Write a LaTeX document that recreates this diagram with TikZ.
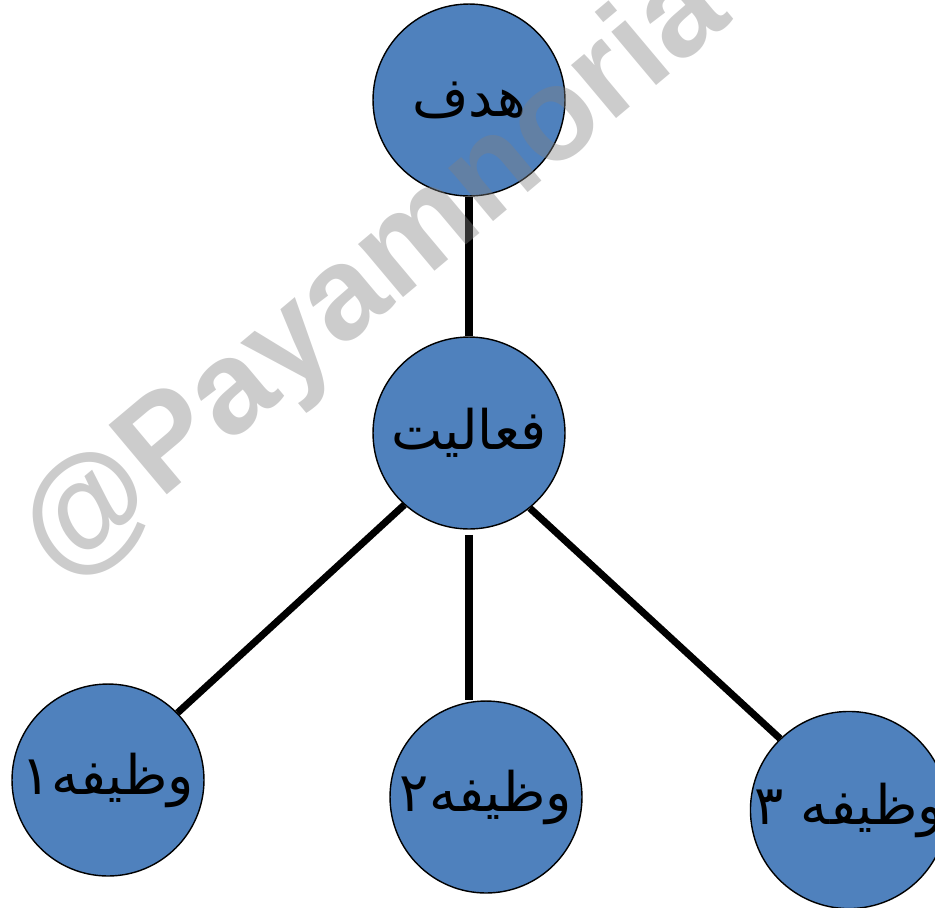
\documentclass[tikz,border=0pt]{standalone}
\usepackage{fontspec}
\TeXXeTstate=1
\newfontfamily\arabicfont[Script=Arabic]{DejaVu Sans}
\newfontfamily\wmfont{Liberation Sans}
\definecolor{CB}{RGB}{79,129,189}
\tikzset{
    CC1/.style ={circle,minimum size=3.84cm,inner sep=0pt,draw,line width=0.8pt,fill=CB,font=\arabicfont\fontsize{31}{33}\selectfont},
    LL/.style ={line width=4pt},
    WM/.style ={text=gray,opacity=0.4,rotate=40,font=\wmfont\bfseries\fontsize{75}{80}\selectfont}}

\begin{document}
\begin{tikzpicture}[x=0.02cm,y=-0.02cm]
        \useasboundingbox (0,0) rectangle (935,907);
        \node[CC1] (1) at (469,100){\beginR هدف\endR};
        \node[CC1] (2) at (469,433){\beginR فعالیت\endR};
        \node[CC1] (3) at (108,780){\beginR وظیفه۱\endR};
        \node[CC1] (4) at (486,797){\beginR وظیفه۲\endR};
        \node[CC1] (5) at (849,810){\beginR وظیفه ۳\endR};
        \draw[LL] (1) -- (2);
        \draw[LL] (2.228) -- (3.44);
        \draw[LL,shorten <=3pt] (2.south) -- (2.south |- 4.north);
        \draw[LL] (2.309) -- (5.134);
        \node[WM] (w) at (376,276){@Payamnoria};
    \end{tikzpicture}
\end{document}
